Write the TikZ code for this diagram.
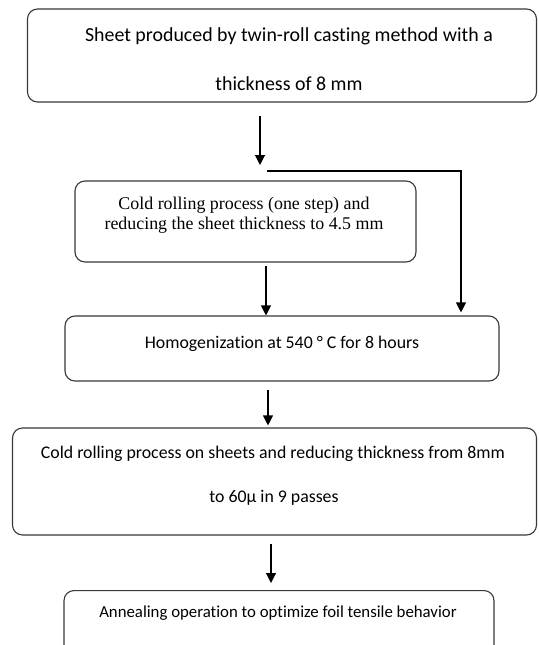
\documentclass[tikz,border=0pt]{standalone}
\usepackage{fontspec}
\setmainfont{Carlito}[Ligatures=NoCommon]
\newfontfamily\tnr{Liberation Serif}
\usetikzlibrary{arrows.meta}
\tikzset{
  box/.style={draw=black!78, line width=1.1pt, rounded corners=10pt, inner sep=0pt},
  cal/.style={font=\fontsize{17.8}{20}\selectfont, align=center, inner sep=0pt},
  calbig/.style={cal, font=\fontsize{19.9}{22}\selectfont},
  calsmall/.style={cal, font=\fontsize{16.8}{20}\selectfont},
  tim/.style={font=\tnr\fontsize{17.9}{20}\selectfont, align=center, inner sep=0pt},
  arr/.style={-{Triangle[width=10pt,length=10pt]}, line width=1.1pt},
  bar/.style={line width=2.4pt}
}
\begin{document}
\begin{tikzpicture}[x=1pt,y=-1pt]
\useasboundingbox (0,0) rectangle (538,645);
\clip (0,0) rectangle (538,645);
% boxes
\node[box, minimum width=509pt, minimum height=93pt] (b1) at (282,55.5) {};
\node[box, minimum width=341pt, minimum height=81pt] (bc) at (245.5,221.5) {};
\node[box, minimum width=434pt, minimum height=65pt] (b2) at (282,348.5) {};
\node[box, minimum width=524pt, minimum height=107pt] (b3) at (274.5,481.5) {};
\node[box, minimum width=430pt, minimum height=90pt, anchor=north] (b4) at (279,590) {};
% texts
\node[calbig] (t1a) at (289,36) {Sheet produced by twin-roll casting method with a};
\node[calbig] (t1b) at (289,84) {thickness of 8 mm};
\node[tim] (tc) at (244,215) {Cold rolling process (one step) and\\reducing the sheet thickness to 4.5 mm};
\node[cal] (t2) at (282,344) {Homogenization at 540 ° C for 8 hours};
\node[cal] (t3a) at (273,454) {Cold rolling process on sheets and reducing thickness from 8mm};
\node[cal] (t3b) at (274,498) {to 60µ in 9 passes};
\node[calsmall] (t4) at (278,613) {Annealing operation to optimize foil tensile behavior};
% connectors
\coordinate (j1) at (260,165);
\coordinate (j2) at (267,171);
\coordinate (j3) at (461,171);
\draw[arr] ([yshift=-13pt]b1.south -| j1) -- (j1);
\draw[bar] (j2) -- ([xshift=1pt]j3);
\draw[arr, shorten >=3pt] (j3) -- (j3 |- b2.north);
\draw[arr] ([xshift=20.5pt,yshift=-3pt]bc.south) -- ([xshift=-16pt]b2.north);
\draw[arr, shorten >=2pt] ([xshift=-14pt,yshift=-8pt]b2.south) -- ([xshift=-6.5pt]b3.north);
\draw[arr, shorten >=7pt] ([xshift=-3.5pt,yshift=-8pt]b3.south) -- ([xshift=-8pt]b4.north);
\end{tikzpicture}
\end{document}
